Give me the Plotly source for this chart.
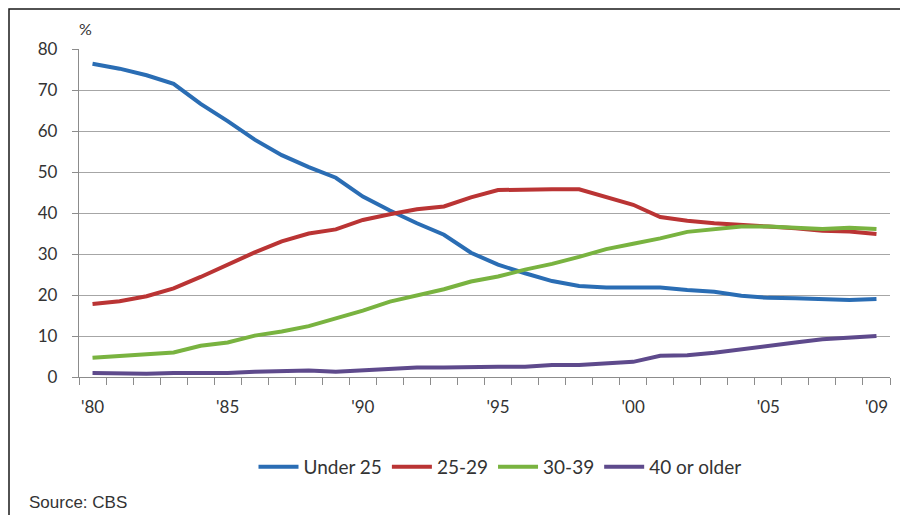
import plotly.graph_objects as go

years = list(range(1980, 2010))
under25 = [76.4, 75.2, 73.6, 71.5, 66.6, 62.4, 57.9, 54.1, 51.2, 48.6,
           44.0, 40.6, 37.5, 34.7, 30.3, 27.4, 25.3, 23.4, 22.2, 21.8,
           21.8, 21.8, 21.2, 20.8, 19.8, 19.3, 19.2, 19.1, 18.8, 19.0]
age25_29 = [17.8, 18.5, 19.7, 21.6, 24.4, 27.5, 30.4, 33.1, 35.0, 36.0,
            38.3, 39.7, 40.9, 41.6, 43.8, 45.6, 45.8, 45.8, 45.8, 43.8,
            42.0, 39.0, 38.1, 37.5, 37.0, 36.7, 36.3, 35.7, 35.5, 34.9]
age30_39 = [4.7, 5.2, 5.5, 6.0, 7.6, 8.4, 10.1, 11.1, 12.4, 14.3,
            16.2, 18.4, 20.0, 21.4, 23.3, 24.5, 26.2, 27.6, 29.3, 31.2,
            32.5, 33.8, 35.4, 36.0, 36.7, 36.7, 36.4, 36.1, 36.4, 36.1]
age40plus = [1.0, 0.8, 0.8, 1.0, 1.0, 1.0, 1.3, 1.4, 1.6, 1.3,
             1.7, 2.0, 2.3, 2.3, 2.5, 2.5, 2.5, 2.9, 2.9, 3.4,
             3.7, 5.2, 5.3, 5.9, 6.8, 7.6, 8.4, 9.2, 9.6, 10.0]

series_names = ["Under 25", "25-29", "30-39", "40 or older"]
series_values = [under25, age25_29, age30_39, age40plus]
colors = ["#2A6DB4", "#BA3434", "#79B340", "#5E4A8C"]

tick_years = [1980, 1985, 1990, 1995, 2000, 2005, 2009]
tick_labels = ["'80", "'85", "'90", "'95", "'00", "'05", "'09"]
y_ticks = [0, 10, 20, 30, 40, 50, 60, 70, 80]

font_family = "Lato, 'Open Sans', sans-serif"
text_color = "#333333"

fig = go.Figure()
for name, vals, col in zip(series_names, series_values, colors):
    fig.add_trace(go.Scatter(
        x=years, y=vals, mode="lines", name=name,
        line=dict(color=col, width=4),
    ))

# page body has an 8px margin; figure is placed at (8, 8) in the window
OFF = 8
W, H = 908 - OFF, 515 - OFF
L, R, T = 79 - OFF, 18, 49 - OFF
B = H - (377 - OFF)
pw, ph = W - L - R, H - T - B

def px_x(px):
    return (px - OFF - L) / pw

def px_y(py):
    return (H - B - (py - OFF)) / ph

fig.update_layout(
    width=W, height=H,
    margin=dict(l=L, r=R, t=T, b=B, autoexpand=False),
    paper_bgcolor="white", plot_bgcolor="white",
    font=dict(family=font_family, size=17, color=text_color),
    showlegend=True,
    legend=dict(
        orientation="h", x=px_x(500), xanchor="center",
        y=px_y(467), yanchor="middle",
        font=dict(size=19, color=text_color),
        itemwidth=40, tracegroupgap=0,
    ),
    xaxis=dict(
        range=[1979.5, 2009.5],
        tickvals=tick_years, ticktext=tick_labels,
        ticks="", showgrid=False, zeroline=False,
        showline=True, linecolor="#8C8C8C", linewidth=1.3,
        tickfont=dict(size=17, color=text_color),
        minor=dict(tickvals=[y - 0.5 for y in years] + [2009.5],
                   ticks="outside", ticklen=7, tickcolor="#8C8C8C",
                   tickwidth=1.3, showgrid=False),
        ticklabelstandoff=14,
    ),
    yaxis=dict(
        range=[0, 80], tickvals=y_ticks,
        ticks="outside", ticklen=6, tickcolor="#8C8C8C", tickwidth=1.3,
        showgrid=True, gridcolor="#A6A6A6", gridwidth=1.3,
        zeroline=False,
        showline=True, linecolor="#8C8C8C", linewidth=1.3,
        tickfont=dict(size=17, color=text_color),
        ticklabelstandoff=11,
    ),
    annotations=[
        dict(text="%", xref="paper", yref="paper", x=px_x(85), y=px_y(28),
             showarrow=False, xanchor="center", yanchor="middle",
             font=dict(size=16, color=text_color)),
        dict(text="Source: CBS", xref="paper", yref="paper",
             x=px_x(27), y=px_y(502), showarrow=False,
             xanchor="left", yanchor="middle",
             font=dict(family="'Liberation Sans', Arial, sans-serif", size=17,
                       color=text_color)),
    ],
    shapes=[
        dict(type="rect", xref="paper", yref="paper",
             x0=px_x(9), x1=px_x(1000), y0=px_y(600), y1=px_y(9),
             line=dict(color="#1A1A1A", width=1.5), fillcolor="rgba(0,0,0,0)",
             layer="above"),
    ],
)

fig.write_html("out.html")
